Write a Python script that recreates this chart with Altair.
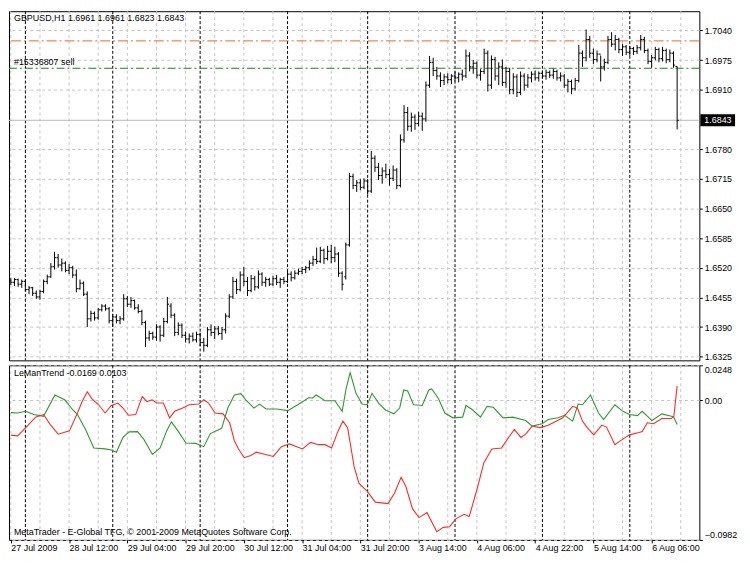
import json
import altair as alt
import pandas as pd

# ---------------- data ----------------
symbol_title = "GBPUSD,H1  1.6961 1.6961 1.6823 1.6843"
indicator_title = "LeManTrend -0.0169 0.0103"
order_label = "#15336807 sell"
copyright_text = "MetaTrader - E-Global TFG, \u00a9 2001-2009 MetaQuotes Software Corp."

opens = [
    1.6492, 1.6488, 1.6494, 1.6484, 1.6490, 1.6472, 1.6476, 1.6464,
    1.6456, 1.6468, 1.6490, 1.6500, 1.6522, 1.6542, 1.6526, 1.6530,
    1.6514, 1.6520, 1.6504, 1.6474, 1.6486, 1.6462, 1.6408, 1.6420,
    1.6410, 1.6428, 1.6436, 1.6430, 1.6404, 1.6412, 1.6404, 1.6408,
    1.6452, 1.6440, 1.6448, 1.6432, 1.6424, 1.6400, 1.6366, 1.6376,
    1.6368, 1.6390, 1.6372, 1.6402, 1.6436, 1.6416, 1.6378, 1.6394,
    1.6372, 1.6364, 1.6370, 1.6362, 1.6374, 1.6356, 1.6350, 1.6384,
    1.6378, 1.6386, 1.6376, 1.6384, 1.6414, 1.6456, 1.6490, 1.6472,
    1.6504, 1.6490, 1.6470, 1.6496, 1.6478, 1.6506, 1.6488, 1.6494,
    1.6484, 1.6496, 1.6488, 1.6494, 1.6490, 1.6506, 1.6498, 1.6508,
    1.6512, 1.6516, 1.6520, 1.6530, 1.6538, 1.6534, 1.6558, 1.6540,
    1.6556, 1.6542, 1.6550, 1.6508, 1.6500, 1.6570, 1.6720, 1.6700,
    1.6706, 1.6696, 1.6710, 1.6688, 1.6760, 1.6740, 1.6722, 1.6732,
    1.6724, 1.6716, 1.6734, 1.6700, 1.6800, 1.6860, 1.6830, 1.6850,
    1.6836, 1.6852, 1.6846, 1.6920, 1.6970, 1.6952, 1.6940, 1.6930,
    1.6938, 1.6932, 1.6940, 1.6936, 1.6944, 1.6940, 1.6984, 1.6960,
    1.6968, 1.6942, 1.6950, 1.6990, 1.6920, 1.6976, 1.6940, 1.6960,
    1.6926, 1.6950, 1.6910, 1.6938, 1.6904, 1.6940, 1.6920, 1.6936,
    1.6944, 1.6936, 1.6946, 1.6940, 1.6948, 1.6942, 1.6950, 1.6936,
    1.6940, 1.6920, 1.6928, 1.6912, 1.6930, 1.6990, 1.6980, 1.7020,
    1.6990, 1.6976, 1.6988, 1.6960, 1.6970, 1.7020, 1.7010, 1.7020,
    1.6998, 1.7004, 1.6992, 1.7000, 1.6994, 1.7002, 1.7020, 1.6996,
    1.6972, 1.6980, 1.6998, 1.6978, 1.6996, 1.6976, 1.6990, 1.6961,
]
highs = [
    1.6498, 1.6497, 1.6496, 1.6494, 1.6492, 1.6480, 1.6478, 1.6470,
    1.6472, 1.6494, 1.6505, 1.6530, 1.6555, 1.6550, 1.6540, 1.6534,
    1.6528, 1.6524, 1.6516, 1.6494, 1.6490, 1.6468, 1.6426, 1.6424,
    1.6432, 1.6440, 1.6440, 1.6434, 1.6418, 1.6418, 1.6414, 1.6462,
    1.6458, 1.6456, 1.6450, 1.6440, 1.6428, 1.6404, 1.6382, 1.6380,
    1.6396, 1.6394, 1.6410, 1.6456, 1.6442, 1.6420, 1.6400, 1.6398,
    1.6380, 1.6376, 1.6378, 1.6380, 1.6378, 1.6366, 1.6390, 1.6396,
    1.6392, 1.6392, 1.6390, 1.6420, 1.6462, 1.6500, 1.6496, 1.6512,
    1.6522, 1.6500, 1.6504, 1.6502, 1.6514, 1.6510, 1.6500, 1.6498,
    1.6502, 1.6504, 1.6498, 1.6500, 1.6512, 1.6512, 1.6514, 1.6518,
    1.6522, 1.6524, 1.6536, 1.6546, 1.6564, 1.6566, 1.6562, 1.6568,
    1.6570, 1.6566, 1.6554, 1.6512, 1.6575, 1.6728, 1.6726, 1.6712,
    1.6714, 1.6716, 1.6714, 1.6776, 1.6766, 1.6750, 1.6740, 1.6748,
    1.6736, 1.6744, 1.6738, 1.6812, 1.6876, 1.6872, 1.6860, 1.6856,
    1.6862, 1.6860, 1.6928, 1.6984, 1.6980, 1.6960, 1.6948, 1.6944,
    1.6946, 1.6944, 1.6950, 1.6948, 1.6954, 1.6998, 1.6992, 1.6975,
    1.6972, 1.6955, 1.7000, 1.6996, 1.6985, 1.6982, 1.6970, 1.6976,
    1.6960, 1.6958, 1.6946, 1.6944, 1.6950, 1.6946, 1.6944, 1.6950,
    1.6952, 1.6950, 1.6952, 1.6954, 1.6952, 1.6956, 1.6954, 1.6948,
    1.6944, 1.6934, 1.6932, 1.6936, 1.7008, 1.6996, 1.7042, 1.7028,
    1.7000, 1.6996, 1.6985, 1.6978, 1.7028, 1.7036, 1.7030, 1.7024,
    1.7010, 1.7008, 1.7006, 1.7004, 1.7008, 1.7030, 1.7026, 1.7000,
    1.6986, 1.7004, 1.7002, 1.7004, 1.7000, 1.6998, 1.6994, 1.6961,
]
lows = [
    1.6482, 1.6480, 1.6478, 1.6476, 1.6468, 1.6462, 1.6458, 1.6452,
    1.6450, 1.6464, 1.6484, 1.6498, 1.6516, 1.6520, 1.6512, 1.6510,
    1.6506, 1.6498, 1.6466, 1.6472, 1.6458, 1.6390, 1.6402, 1.6404,
    1.6406, 1.6424, 1.6426, 1.6398, 1.6390, 1.6398, 1.6396, 1.6404,
    1.6434, 1.6432, 1.6428, 1.6420, 1.6394, 1.6346, 1.6360, 1.6362,
    1.6360, 1.6358, 1.6368, 1.6398, 1.6410, 1.6370, 1.6372, 1.6366,
    1.6356, 1.6354, 1.6358, 1.6356, 1.6348, 1.6336, 1.6346, 1.6370,
    1.6364, 1.6372, 1.6362, 1.6376, 1.6410, 1.6452, 1.6462, 1.6468,
    1.6480, 1.6458, 1.6466, 1.6470, 1.6474, 1.6480, 1.6478, 1.6480,
    1.6480, 1.6482, 1.6476, 1.6484, 1.6486, 1.6490, 1.6494, 1.6504,
    1.6506, 1.6508, 1.6514, 1.6524, 1.6528, 1.6530, 1.6528, 1.6536,
    1.6530, 1.6532, 1.6500, 1.6470, 1.6494, 1.6566, 1.6692, 1.6686,
    1.6690, 1.6692, 1.6680, 1.6684, 1.6730, 1.6712, 1.6704, 1.6716,
    1.6700, 1.6710, 1.6692, 1.6696, 1.6794, 1.6820, 1.6818, 1.6822,
    1.6830, 1.6820, 1.6840, 1.6914, 1.6940, 1.6932, 1.6916, 1.6920,
    1.6924, 1.6922, 1.6928, 1.6926, 1.6930, 1.6936, 1.6950, 1.6945,
    1.6935, 1.6930, 1.6944, 1.6906, 1.6912, 1.6930, 1.6920, 1.6918,
    1.6914, 1.6900, 1.6900, 1.6894, 1.6898, 1.6908, 1.6914, 1.6926,
    1.6930, 1.6928, 1.6934, 1.6932, 1.6936, 1.6934, 1.6930, 1.6928,
    1.6914, 1.6904, 1.6900, 1.6908, 1.6926, 1.6960, 1.6972, 1.6980,
    1.6966, 1.6970, 1.6928, 1.6952, 1.6966, 1.7004, 1.6996, 1.6990,
    1.6984, 1.6986, 1.6984, 1.6986, 1.6988, 1.6996, 1.6990, 1.6966,
    1.6958, 1.6974, 1.6970, 1.6972, 1.6968, 1.6970, 1.6958, 1.6823,
]
closes = [
    1.6488, 1.6494, 1.6484, 1.6490, 1.6472, 1.6476, 1.6464, 1.6456,
    1.6468, 1.6490, 1.6500, 1.6522, 1.6542, 1.6526, 1.6530, 1.6514,
    1.6520, 1.6504, 1.6474, 1.6486, 1.6462, 1.6408, 1.6420, 1.6410,
    1.6428, 1.6436, 1.6430, 1.6404, 1.6412, 1.6404, 1.6408, 1.6452,
    1.6440, 1.6448, 1.6432, 1.6424, 1.6400, 1.6366, 1.6376, 1.6368,
    1.6390, 1.6372, 1.6402, 1.6440, 1.6416, 1.6378, 1.6394, 1.6372,
    1.6364, 1.6370, 1.6362, 1.6374, 1.6356, 1.6350, 1.6384, 1.6378,
    1.6386, 1.6376, 1.6384, 1.6414, 1.6456, 1.6490, 1.6472, 1.6504,
    1.6490, 1.6470, 1.6496, 1.6478, 1.6506, 1.6488, 1.6494, 1.6484,
    1.6496, 1.6488, 1.6494, 1.6490, 1.6506, 1.6498, 1.6508, 1.6512,
    1.6516, 1.6520, 1.6530, 1.6538, 1.6534, 1.6558, 1.6540, 1.6556,
    1.6542, 1.6550, 1.6508, 1.6484, 1.6570, 1.6720, 1.6700, 1.6706,
    1.6696, 1.6710, 1.6688, 1.6760, 1.6740, 1.6722, 1.6732, 1.6724,
    1.6716, 1.6734, 1.6700, 1.6800, 1.6860, 1.6830, 1.6850, 1.6836,
    1.6852, 1.6846, 1.6920, 1.6970, 1.6952, 1.6940, 1.6930, 1.6938,
    1.6932, 1.6940, 1.6936, 1.6944, 1.6940, 1.6984, 1.6960, 1.6968,
    1.6942, 1.6950, 1.6990, 1.6920, 1.6976, 1.6940, 1.6960, 1.6926,
    1.6950, 1.6910, 1.6938, 1.6904, 1.6940, 1.6920, 1.6936, 1.6944,
    1.6936, 1.6946, 1.6940, 1.6948, 1.6942, 1.6950, 1.6936, 1.6940,
    1.6920, 1.6928, 1.6912, 1.6930, 1.6990, 1.6980, 1.7020, 1.6990,
    1.6976, 1.6988, 1.6960, 1.6970, 1.7020, 1.7010, 1.7020, 1.6998,
    1.7004, 1.6992, 1.7000, 1.6994, 1.7002, 1.7020, 1.6996, 1.6972,
    1.6980, 1.6998, 1.6978, 1.6996, 1.6976, 1.6990, 1.6964, 1.6843,
]

# LeManTrend indicator lines (bar position, value)
green_idx = [0, 1.9, 4.1, 6.3, 9.0, 12.1, 14.8, 17.0, 18.3, 20.5, 22.8, 25.9, 27.6, 29.0,
             30.8, 32.5, 34.8, 36.5, 38.9, 41.0, 42.8, 44.1, 45.9, 48.1, 50.8, 53.0, 54.8,
             57.9, 59.6, 61.4, 63.2, 64.5, 66.8, 68.3, 70.1, 73.0, 76.1, 78.8, 81.9, 82.8,
             83.9, 86.3, 89.0, 91.0, 92.1, 93.2, 94.8, 96.5, 97.9, 99.2, 101.0, 102.8, 105.2,
             106.8, 107.9, 109.0, 110.6, 113.0, 114.8, 115.6, 117.4, 119.2, 121.4, 124.1,
             125.0, 126.8, 129.0, 130.8, 132.5, 135.2, 137.9, 141.4, 143.2, 145.9, 147.6,
             150.3, 152.1, 154.3, 155.8, 157.0, 159.2, 161.4, 162.8, 165.9, 168.1, 169.9,
             172.1, 173.4, 176.1, 178.8, 181.4, 182.0, 183]
green_val = [-0.0085, -0.0088, -0.0076, -0.0099, -0.0111, 0.0039, 0.0005, -0.0065, -0.0099,
             -0.0203, -0.0334, -0.0341, -0.0348, -0.0364, -0.0260, -0.0221, -0.0219, -0.0272,
             -0.0380, -0.0334, -0.0214, -0.0150, -0.0214, -0.0299, -0.0302, -0.0325, -0.0233,
             -0.0196, -0.0053, 0.0039, 0.0048, 0.0005, -0.0053, -0.0025, -0.0060, -0.0060,
             -0.0071, -0.0030, 0.0021, 0.0016, 0.0039, -0.0002, -0.0002, -0.0076, 0.0085,
             0.0196, 0.0051, -0.0025, -0.0030, 0.0051, -0.0018, -0.0065, -0.0094, -0.0053,
             0.0074, 0.0067, -0.0030, -0.0035, 0.0074, 0.0081, 0.0016, -0.0088, -0.0122,
             -0.0117, -0.0035, -0.0065, -0.0117, -0.0041, -0.0048, -0.0122, -0.0117, -0.0141,
             -0.0180, -0.0164, -0.0134, -0.0122, -0.0104, -0.0145, -0.0025, -0.0030, 0.0039,
             -0.0088, -0.0134, -0.0030, -0.0076, -0.0099, -0.0106, -0.0076, -0.0141, -0.0094,
             -0.0111, -0.0115, -0.0169]
red_idx = [0, 1.9, 4.5, 6.8, 9.0, 10.8, 13.0, 16.1, 18.3, 19.6, 21.0, 22.3, 24.1, 25.9, 27.6,
           29.4, 30.8, 32.3, 34.3, 36.1, 37.4, 38.8, 40.1, 41.9, 43.6, 45.0, 47.2, 49.0, 51.6,
           53.0, 54.3, 56.1, 58.3, 60.1, 61.4, 62.5, 64.1, 65.9, 67.4, 69.9, 72.1, 74.3, 76.5,
           80.1, 82.3, 84.5, 86.3, 88.1, 89.9, 91.2, 92.5, 94.3, 95.6, 97.9, 100.1, 103.6,
           105.4, 107.2, 108.5, 110.3, 112.1, 114.3, 117.0, 118.8, 120.5, 122.3, 124.5, 125.9,
           128.1, 129.9, 132.1, 134.8, 136.1, 138.3, 140.1, 141.4, 143.2, 145.4, 147.6, 149.9,
           151.6, 154.3, 155.6, 157.0, 158.3, 160.1, 162.3, 163.6, 165.9, 168.1, 169.9, 172.5,
           173.4, 174.8, 176.5, 178.8, 181.4, 182.1, 183]
red_val = [-0.0244, -0.0249, -0.0180, -0.0117, -0.0099, -0.0168, -0.0237, -0.0214, -0.0088,
           -0.0007, 0.0062, 0.0012, -0.0030, -0.0088, -0.0035, -0.0018, -0.0053, -0.0104,
           -0.0099, 0.0028, -0.0007, 0.0005, -0.0018, -0.0018, -0.0122, -0.0076, -0.0053,
           -0.0030, -0.0025, 0.0005, -0.0018, -0.0088, -0.0094, -0.0157, -0.0283, -0.0340,
           -0.0403, -0.0387, -0.0364, -0.0380, -0.0394, -0.0325, -0.0306, -0.0341, -0.0295,
           -0.0311, -0.0311, -0.0334, -0.0214, -0.0145, -0.0191, -0.0468, -0.0583, -0.0640,
           -0.0716, -0.0726, -0.0652, -0.0541, -0.0606, -0.0762, -0.0825, -0.0790, -0.0924,
           -0.0894, -0.0889, -0.0832, -0.0802, -0.0818, -0.0620, -0.0440, -0.0341, -0.0334,
           -0.0283, -0.0203, -0.0260, -0.0237, -0.0180, -0.0191, -0.0175, -0.0145, -0.0122,
           -0.0041, -0.0053, -0.0145, -0.0191, -0.0242, -0.0173, -0.0187, -0.0311, -0.0272,
           -0.0242, -0.0226, -0.0219, -0.0157, -0.0164, -0.0127, -0.0127, -0.0111, 0.0103]

price_ticks = [1.6325, 1.6390, 1.6455, 1.6520, 1.6585, 1.6650, 1.6715, 1.6780,
               1.6910, 1.6975, 1.7040]
ind_ticks = [0.0248, 0.0, -0.0982]
time_label_idx = [0, 16, 32, 48, 64, 80, 96, 112, 128, 144, 160, 176]
time_labels = ["27 Jul 2009", "28 Jul 12:00", "29 Jul 04:00", "29 Jul 20:00",
               "30 Jul 12:00", "31 Jul 04:00", "31 Jul 20:00", "3 Aug 14:00",
               "4 Aug 06:00", "4 Aug 22:00", "5 Aug 14:00", "6 Aug 06:00"]
grid_idx = [0, 8, 16, 24, 32, 40, 48, 56, 64, 72, 80, 88, 96, 104, 112, 120, 128,
            136, 144, 152, 160, 168, 176, 184]
separator_idx = [4, 28, 52, 76, 98, 122, 146, 170]
order_tp_level = [1.7017]
order_open_level = [1.6957]
bid_level = [1.6843]

# ---------------- layout / style ----------------
W, H1, H2 = 696, 352, 176
XDOM = [-0.5, 189.1]
PDOM = [1.6317, 1.7082]
IDOM = [-0.0982, 0.0248]
FONT = "Liberation Sans"
FS = 9
GRID = "#C4C4C4"

xscale = alt.Scale(domain=XDOM, nice=False, zero=False)
pscale = alt.Scale(domain=PDOM, nice=False, zero=False)
iscale = alt.Scale(domain=IDOM, nice=False, zero=False)

paxis = alt.Axis(orient="right", values=price_ticks, format=".4f", grid=True,
                 gridColor=GRID, gridDash=[3, 3], gridWidth=1, tickSize=3,
                 tickColor="black", domain=False, labelPadding=2, title=None,
                 labelFont=FONT, labelFontSize=FS, labelColor="black")
iaxis = alt.Axis(orient="right", values=ind_ticks,
                 labelExpr="datum.value == 0 ? '0.00' : format(datum.value, '.4f')",
                 grid=True, gridColor=GRID, gridDash=[3, 3], gridWidth=1, tickSize=3,
                 tickColor="black", domain=False, labelPadding=2, labelFlush=True,
                 title=None, labelFont=FONT, labelFontSize=FS, labelColor="black")
xaxis = alt.Axis(values=time_label_idx,
                 labelExpr=json.dumps(time_labels) + "[round(datum.value / 16)]",
                 grid=False, tickSize=3, tickColor="black", domain=False,
                 labelAlign="left", labelPadding=1, labelOverlap=False,
                 labelBound=False, labelFlush=False, title=None,
                 labelFont=FONT, labelFontSize=FS, labelColor="black")


def xm(field):
    return alt.X(field, type="quantitative", scale=xscale, axis=None)


def xi(field):
    return alt.X(field, type="quantitative", scale=xscale, axis=xaxis)


def yp(field):
    return alt.Y(field, type="quantitative", scale=pscale, axis=paxis)


def yi(field):
    return alt.Y(field, type="quantitative", scale=iscale, axis=iaxis)


bars = pd.DataFrame({"i": list(range(len(closes))), "o": opens, "h": highs,
                     "l": lows, "c": closes})
grid_df = pd.DataFrame({"g": grid_idx})
sep_df = pd.DataFrame({"s": separator_idx})

# ---------------- main price panel ----------------
vgrid_m = alt.Chart(grid_df).mark_rule(color=GRID, strokeDash=[3, 3], strokeWidth=1).encode(x=xm("g"))
sep_m = alt.Chart(sep_df).mark_rule(color="black", strokeDash=[3, 2], strokeWidth=1).encode(x=xm("s"))

tp_line = alt.Chart(pd.DataFrame({"p": order_tp_level})).mark_rule(
    color="#F0642A", strokeDash=[10, 3, 2, 3], strokeWidth=1).encode(y=yp("p"))
open_line = alt.Chart(pd.DataFrame({"p": order_open_level})).mark_rule(
    color="#1E7A1E", strokeDash=[8, 3, 2, 3], strokeWidth=1).encode(y=yp("p"))
bid_line = alt.Chart(pd.DataFrame({"p": bid_level})).mark_rule(
    color="#B8B8B8", strokeWidth=1).encode(y=yp("p"))

hl = alt.Chart(bars).mark_rule(color="black", strokeWidth=1).encode(
    x=xm("i"), y=yp("l"), y2="h:Q")
otick = alt.Chart(bars).transform_calculate(xo="datum.i - 0.45").mark_rule(
    color="black", strokeWidth=1).encode(x=xm("xo"), x2="i:Q", y=yp("o"))
ctick = alt.Chart(bars).transform_calculate(xc="datum.i + 0.45").mark_rule(
    color="black", strokeWidth=1).encode(x=xm("i"), x2="xc:Q", y=yp("c"))

title_txt = alt.Chart(pd.DataFrame({"t": [symbol_title]})).mark_text(
    align="left", baseline="middle", font=FONT, fontSize=FS, color="black").encode(
    x=alt.value(5), y=alt.value(7), text="t:N")
order_txt = alt.Chart(pd.DataFrame({"t": [order_label], "p": order_open_level})).mark_text(
    align="left", baseline="bottom", dy=-1, font=FONT, fontSize=FS, color="black").encode(
    x=alt.value(5), y=yp("p"), text="t:N")

bid_box = alt.Chart(pd.DataFrame({"p": bid_level})).mark_rule(
    color="black", strokeWidth=12).encode(
    x=alt.value(W + 1), x2=alt.value(W + 36), y=yp("p"))
bid_txt = alt.Chart(pd.DataFrame({"p": bid_level})).transform_calculate(
    t="format(datum.p, '.4f')").mark_text(
    align="left", baseline="middle", font=FONT, fontSize=FS, color="white").encode(
    x=alt.value(W + 5), y=yp("p"), text="t:N")

main = alt.layer(vgrid_m, sep_m, tp_line, open_line, bid_line, hl, otick, ctick,
                 title_txt, order_txt, bid_box, bid_txt).properties(width=W, height=H1)

# ---------------- indicator panel ----------------
vgrid_i = alt.Chart(grid_df).mark_rule(color=GRID, strokeDash=[3, 3], strokeWidth=1).encode(x=xi("g"))
sep_i = alt.Chart(sep_df).mark_rule(color="black", strokeDash=[3, 2], strokeWidth=1).encode(x=xi("s"))

green = alt.Chart(pd.DataFrame({"i": green_idx, "v": green_val})).mark_line(
    color="#2E9A2E", strokeWidth=1.1, clip=True).encode(x=xi("i"), y=yi("v"), order="i:Q")
red = alt.Chart(pd.DataFrame({"i": red_idx, "v": red_val})).mark_line(
    color="#FF2A2A", strokeWidth=1.1, clip=True).encode(x=xi("i"), y=yi("v"), order="i:Q")

ind_txt = alt.Chart(pd.DataFrame({"t": [indicator_title]})).mark_text(
    align="left", baseline="middle", font=FONT, fontSize=FS, color="black").encode(
    x=alt.value(5), y=alt.value(8), text="t:N")
copy_txt = alt.Chart(pd.DataFrame({"t": [copyright_text]})).mark_text(
    align="left", baseline="middle", font=FONT, fontSize=FS, color="black").encode(
    x=alt.value(5), y=alt.value(H2 - 8), text="t:N")

ind = alt.layer(vgrid_i, sep_i, green, red, ind_txt, copy_txt).properties(width=W, height=H2)

chart = alt.vconcat(main, ind, spacing=2).properties(
    padding=0, background="white").configure_view(stroke="black", strokeWidth=1)

chart.save("out.html", embed_options={"renderer": "svg", "actions": False})
